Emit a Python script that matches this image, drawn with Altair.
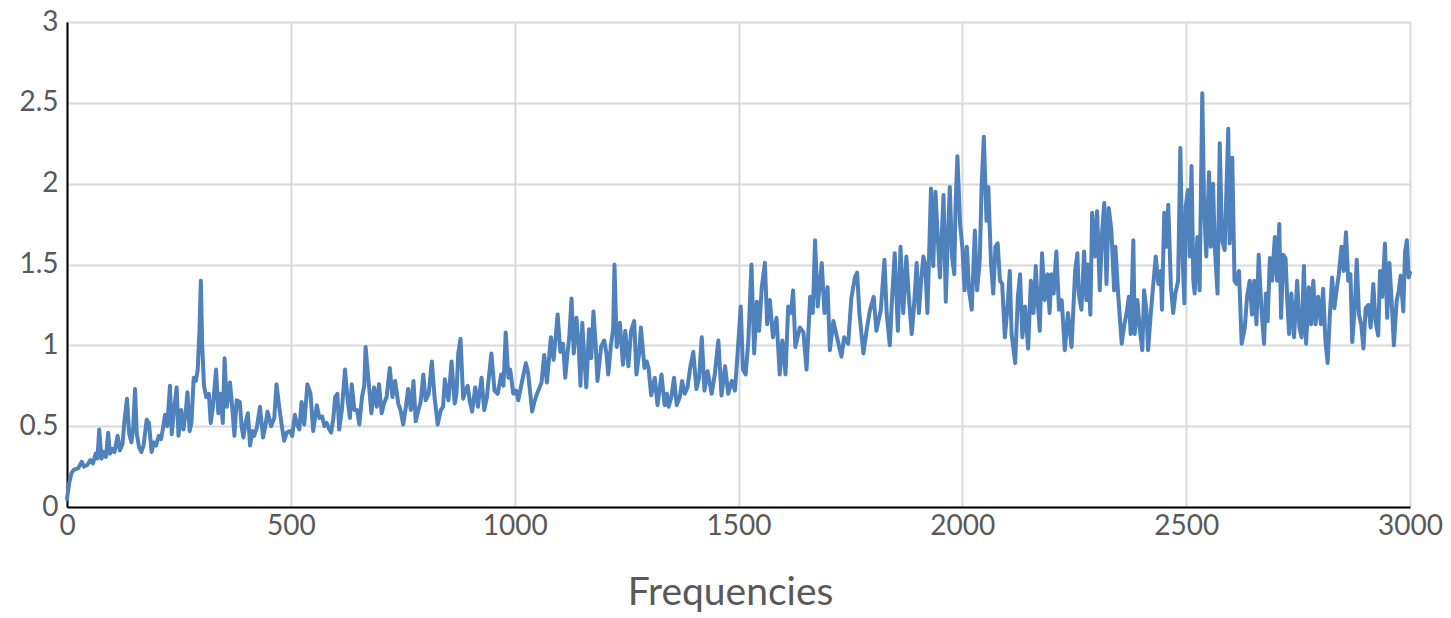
import altair as alt
import pandas as pd

freq = [0,5,10,15,25,33,38,45,52,58,64,68,72,77,82,87,92,96,101,106,113,118,124,129,134,139,144,148,152,156,161,166,171,178,183,189,194,199,205,210,214,219,224,230,234,239,245,249,255,260,265,269,274,278,283,288,292,296,299,302,306,311,317,321,326,333,338,343,348,352,357,
364,369,374,379,386,390,394,399,404,409,414,418,424,431,438,443,448,456,463,468,474,480,485,491,498,503,509,514,519,524,530,537,544,550,558,564,570,575,580,586,590,595,599,604,608,614,621,627,632,636,642,648,653,659,664,667,673,680,686,692,697,703,708,714,721,727,733,740,745,751,757,762,768,774,779,785,790,796,801,808,815,821,828,835,840,844,852,859,866,870,874,879,885,890,895,900,905,912,918,926,932,938,943,948,955,962,970,975,980,986,990,997,1003,1008,1016,1025,1030,1039,1044,1050,1060,1066,1072,1081,1087,1096,1102,1108,1113,1118,1122,1127,1132,1138,1143,1147,1151,1156,1160,1166,1171,1176,1181,1185,1193,1200,1205,1209,1215,1220,1223,1228,1235,1242,1247,1254,1260,1267,1272,1278,1282,1290,1295,1299,1305,1313,1319,1328,1335,1340,1344,1350,1356,1362,1369,1374,1380,1386,1392,1399,1406,1412,1418,1424,1431,1440,1447,1455,1462,1470,1477,1485,1492,1498,1505,1510,1516,1522,1529,1535,1541,1546,1552,1559,1564,1570,1577,1585,1592,1598,1605,1611,1617,1622,1627,1637,1645,1652,1660,1666,1671,1677,1686,1692,1699,1704,1712,1720,1730,1736,1745,1752,1760,1765,1770,1779,1786,1793,1802,1808,1818,1826,1831,1838,1842,1849,1856,1862,1868,1875,1880,1887,1892,1898,1903,1908,1913,1917,1922,1930,1935,1940,1945,1950,1958,1963,1967,1972,1977,1982,1985,1989,1995,2000,2005,2010,2015,2021,2028,2033,2039,2043,2048,2054,2058,2064,2069,2074,2079,2084,2089,2095,2101,2106,2110,2118,2124,2129,2134,2140,2147,2153,2159,2164,2168,2173,2178,2184,2190,2195,2199,2204,2210,2216,2222,2229,2236,2244,2252,
2257,2260,2266,2272,2277,2281,2286,2290,2296,2301,2307,2312,2317,2322,2327,2333,2339,2342,2348,2356,2362,2367,2372,2376,2382,2385,2391,2396,2402,2406,2411,2415,2421,2426,2432,2438,2443,2446,2451,2456,2460,2466,2471,2476,2482,2487,2491,2496,2499,2504,2508,2512,2516,2519,2525,2530,2536,2540,2545,2551,2555,2560,2564,2570,2575,2580,2586,2594,2597,2603,2608,2612,2618,2624,
2631,2636,2642,2647,2652,2657,2662,2668,2674,2678,2682,2687,2692,2698,2703,2708,2712,2717,2722,2726,2730,2735,2741,2748,2753,2758,2763,2768,2774,2779,2784,2789,2795,2801,2806,2811,2816,2821,2826,2831,2836,2841,2847,2852,2857,2862,2867,2871,2877,2881,2886,2891,2896,2901,2907,2912,2918,2923,2929,2933,2938,2944,2949,2954,2959,2964,2970,2975,2979,2985,2989,2993,2997,3000]

amplitude = [0.05,0.15,0.21,0.23,0.24,0.28,0.25,0.26,0.29,0.27,0.33,0.30,0.48,0.30,0.34,0.31,0.46,0.33,0.36,0.34,0.44,0.35,0.39,0.55,0.67,0.45,0.40,0.50,0.73,0.45,0.37,0.34,0.38,0.54,0.52,0.34,0.40,0.38,0.44,0.42,0.48,0.57,0.50,0.75,0.45,0.60,0.74,0.44,0.60,0.48,0.58,0.71,0.47,0.52,0.80,0.78,0.85,1.10,1.40,1.00,0.75,0.68,0.70,0.52,0.62,0.85,0.58,0.70,0.52,0.92,0.62,
0.77,0.62,0.44,0.66,0.65,0.50,0.43,0.52,0.58,0.38,0.47,0.44,0.49,0.62,0.43,0.50,0.59,0.50,0.55,0.76,0.62,0.50,0.41,0.46,0.47,0.44,0.57,0.51,0.48,0.65,0.51,0.76,0.70,0.47,0.63,0.55,0.56,0.50,0.52,0.48,0.46,0.55,0.68,0.70,0.48,0.60,0.85,0.66,0.55,0.76,0.60,0.60,0.51,0.68,0.75,0.99,0.80,0.58,0.74,0.62,0.76,0.58,0.64,0.68,0.86,0.68,0.78,0.64,0.60,0.51,0.62,0.73,0.60,0.78,0.53,0.60,0.65,0.82,0.66,0.70,0.90,0.68,0.51,0.60,0.62,0.79,0.66,0.90,0.64,0.70,0.95,1.04,0.67,0.72,0.75,0.65,0.59,0.74,0.62,0.80,0.60,0.68,0.82,0.95,0.72,0.70,0.82,0.75,1.08,0.80,0.85,0.70,0.72,0.66,0.77,0.89,0.83,0.59,0.65,0.70,0.77,0.94,0.77,1.05,0.91,1.19,0.96,1.01,0.80,0.95,1.05,1.29,0.95,1.17,1.00,0.75,1.14,0.90,0.74,1.10,0.92,1.21,1.00,0.78,0.99,1.03,0.95,0.82,1.00,1.10,1.50,0.99,1.14,0.88,1.09,0.87,1.09,1.15,0.82,0.95,1.11,0.86,0.90,0.86,0.69,0.80,0.63,0.82,0.63,0.70,0.62,0.68,0.80,0.63,0.68,0.78,0.70,0.74,0.86,0.96,0.73,0.80,1.05,0.72,0.84,0.70,0.82,1.03,0.69,0.87,0.70,0.78,0.72,0.95,1.24,0.85,0.82,1.03,1.50,0.95,1.27,1.09,1.36,1.51,1.13,1.28,1.05,1.17,0.82,1.03,0.82,1.24,1.20,1.34,0.99,1.11,1.08,0.85,1.30,1.20,1.65,1.24,1.51,1.20,1.36,0.97,1.15,1.05,0.93,1.05,1.01,1.29,1.42,1.45,1.20,0.95,1.09,1.21,1.30,1.09,1.22,1.53,1.20,1.00,1.24,1.57,1.09,1.61,1.20,1.55,1.32,1.07,1.24,1.51,1.20,1.40,1.55,1.50,1.20,1.97,1.49,1.95,1.67,1.42,1.93,1.27,1.61,1.98,1.55,1.44,1.88,2.17,1.75,1.61,1.34,1.61,1.34,1.22,1.71,1.34,1.53,1.98,2.29,1.77,1.98,1.51,1.32,1.61,1.63,1.40,1.38,1.05,1.24,1.46,1.07,0.89,1.30,1.44,1.05,1.24,0.98,1.40,1.20,1.49,1.28,1.09,1.57,1.28,1.44,1.20,1.44,1.32,1.58,1.22,1.28,0.97,1.20,0.99,1.46,
1.57,1.32,1.22,1.58,1.28,1.50,1.19,1.82,1.55,1.83,1.34,1.69,1.88,1.38,1.85,1.71,1.34,1.61,1.32,1.01,1.13,1.20,1.30,1.07,1.65,1.07,1.28,1.11,0.97,1.34,1.22,0.97,1.20,1.36,1.55,1.38,1.46,1.22,1.82,1.61,1.87,1.36,1.20,1.32,1.40,2.22,1.61,1.26,1.86,1.96,1.55,2.11,1.40,1.32,1.67,1.34,2.56,1.86,1.55,2.07,1.61,2.00,1.61,1.32,2.25,1.65,1.59,2.34,1.63,2.16,1.40,1.38,1.46,1.01,
1.11,1.30,1.40,1.19,1.40,1.13,1.56,1.23,1.01,1.32,1.15,1.54,1.40,1.67,1.40,1.75,1.17,1.56,1.54,1.27,1.07,1.32,1.05,1.40,1.11,1.05,1.49,1.01,1.36,1.13,1.40,1.13,1.30,1.13,1.35,1.03,0.89,1.19,1.42,1.23,1.34,1.44,1.61,1.46,1.70,1.40,1.44,1.02,1.25,1.53,1.19,1.13,0.98,1.23,1.25,1.11,1.38,1.15,1.06,1.46,1.30,1.63,1.17,1.51,1.27,1.00,1.27,1.34,1.43,1.21,1.58,1.65,1.42,1.45]

x_ticks = [0, 500, 1000, 1500, 2000, 2500, 3000]
y_ticks = [0, 0.5, 1, 1.5, 2, 2.5, 3]

df = pd.DataFrame({"Frequencies": freq, "Value": amplitude})

FONT = "Lato"
LABEL = "#595959"

line = alt.Chart(df).mark_line(color="#4f81bd", strokeWidth=4, strokeJoin="round", strokeCap="round").encode(
    x=alt.X("Frequencies:Q",
            scale=alt.Scale(domain=[0, 3000], nice=False, zero=False),
            axis=alt.Axis(values=x_ticks, title="Frequencies", grid=True, gridColor="#d9d9d9",
                          gridWidth=2, domainColor="#000000", domainWidth=2, ticks=False,
                          labelExpr="'' + datum.value",
                          labelFont=FONT, labelFontSize=28, labelColor=LABEL, labelPadding=5,
                          titleFont=FONT, titleFontSize=39, titleFontWeight="normal",
                          titleColor=LABEL, titlePadding=33, titleX=663, labelFlush=False)),
    y=alt.Y("Value:Q",
            scale=alt.Scale(domain=[0, 3], nice=False),
            axis=alt.Axis(values=y_ticks, title=None, grid=True, gridColor="#d9d9d9",
                          gridWidth=2, domainColor="#000000", domainWidth=2, ticks=False,
                          labelExpr="'' + datum.value",
                          labelFont=FONT, labelFontSize=28, labelColor=LABEL, labelPadding=9,
                          labelFlush=False)),
    order="Frequencies:Q",
)

chart = line.properties(
    width=1343, height=485,
    autosize=alt.AutoSizeParams(type="none"),
    padding={"left": 67, "top": 22, "right": 41, "bottom": 111},
).configure_view(stroke="#d9d9d9", strokeWidth=2).configure(background="white")

chart.save("out.html", embed_options={"renderer": "svg", "actions": False})
